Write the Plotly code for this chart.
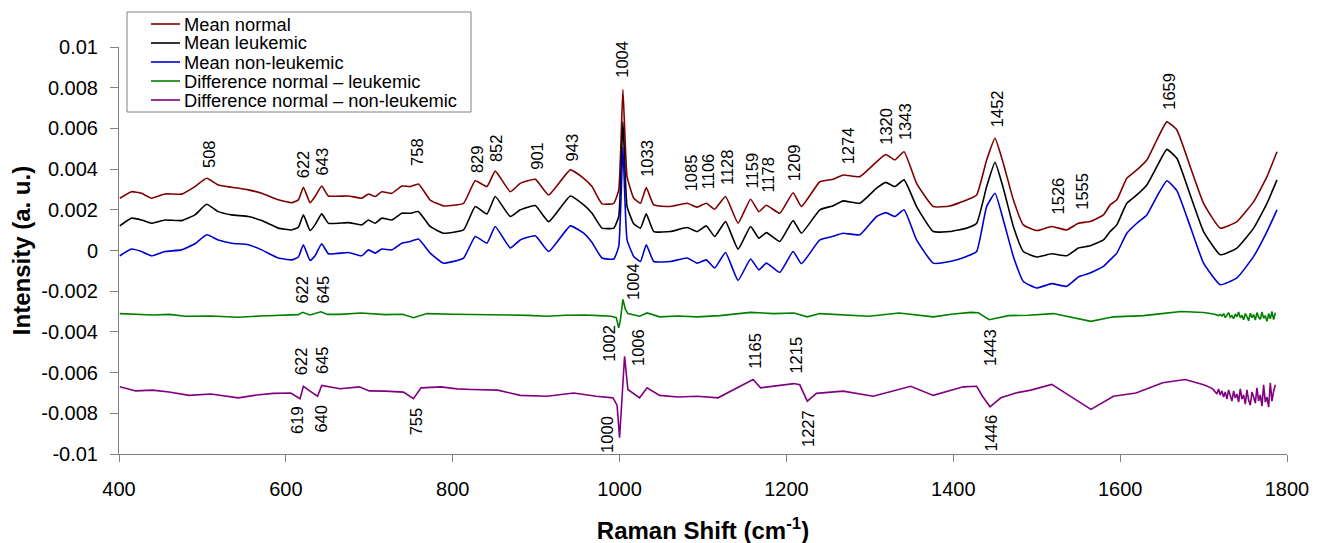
import plotly.graph_objects as go

# ---------------- data ----------------
raman_shift = [401, 415, 427, 439, 455, 475, 491, 505, 519, 535, 555, 571, 591, 607, 615, 621, 629, 635, 643, 651,
               675, 691, 699, 707, 715, 727, 739, 749, 759, 773, 789, 813, 827, 841, 851, 869, 881, 899, 915, 941,
               957, 967, 979, 993, 999, 1004, 1009, 1017, 1025, 1032, 1041, 1061, 1081, 1093, 1104, 1114, 1127, 1142,
               1157, 1167, 1176, 1192, 1208, 1218, 1240, 1256, 1268, 1288, 1308, 1319, 1330, 1341, 1356, 1376, 1396,
               1416, 1428, 1440, 1450, 1460, 1472, 1484, 1500, 1518, 1536, 1550, 1564, 1580, 1588, 1596, 1608, 1620,
               1632, 1644, 1656, 1668, 1684, 1700, 1720, 1740, 1760, 1776, 1788]

mean_normal = [0.00257, 0.00289, 0.00281, 0.00257, 0.00278, 0.00277, 0.00314, 0.00355, 0.00322, 0.00311, 0.00298,
               0.00281, 0.00249, 0.00235, 0.00249, 0.00311, 0.00235, 0.00265, 0.00317, 0.00268, 0.00268, 0.00257,
               0.00278, 0.00265, 0.00289, 0.00281, 0.00317, 0.00314, 0.00327, 0.00248, 0.00219, 0.00232, 0.00343,
               0.00314, 0.00390, 0.00289, 0.00330, 0.00350, 0.00273, 0.00396, 0.00355, 0.00314, 0.00229, 0.00232,
               0.00298, 0.00791, 0.00363, 0.00257, 0.00232, 0.00309, 0.00224, 0.00216, 0.00232, 0.00213, 0.00232,
               0.00203, 0.00265, 0.00134, 0.00252, 0.00191, 0.00222, 0.00183, 0.00284, 0.00216, 0.00338, 0.00350,
               0.00371, 0.00363, 0.00436, 0.00472, 0.00445, 0.00485, 0.00330, 0.00216, 0.00219, 0.00248, 0.00273,
               0.00445, 0.00551, 0.00428, 0.00249, 0.00126, 0.00098, 0.00118, 0.00101, 0.00134, 0.00142, 0.00175,
               0.00224, 0.00249, 0.00355, 0.00396, 0.00445, 0.00543, 0.00632, 0.00592, 0.00412, 0.00232, 0.00110,
               0.00142, 0.00240, 0.00363, 0.00485]

mean_leukemic = [0.00121, 0.00159, 0.00150, 0.00134, 0.00150, 0.00147, 0.00175, 0.00227, 0.00191, 0.00175, 0.00167,
                 0.00147, 0.00110, 0.00101, 0.00114, 0.00175, 0.00098, 0.00126, 0.00180, 0.00134, 0.00137, 0.00126,
                 0.00150, 0.00134, 0.00159, 0.00150, 0.00183, 0.00183, 0.00191, 0.00118, 0.00085, 0.00101, 0.00216,
                 0.00180, 0.00265, 0.00167, 0.00200, 0.00221, 0.00142, 0.00268, 0.00224, 0.00183, 0.00110, 0.00110,
                 0.00167, 0.00632, 0.00216, 0.00131, 0.00110, 0.00180, 0.00093, 0.00093, 0.00113, 0.00093, 0.00121,
                 0.00069, 0.00142, 0.00007, 0.00118, 0.00061, 0.00088, 0.00044, 0.00147, 0.00085, 0.00200, 0.00220,
                 0.00244, 0.00232, 0.00306, 0.00335, 0.00314, 0.00347, 0.00216, 0.00093, 0.00093, 0.00110, 0.00134,
                 0.00314, 0.00433, 0.00306, 0.00118, -0.00005, -0.00032, -0.00016, -0.00026, 0.00012, 0.00023,
                 0.00052, 0.00093, 0.00126, 0.00232, 0.00273, 0.00322, 0.00412, 0.00497, 0.00453, 0.00273, 0.00093,
                 -0.00021, 0.00012, 0.00110, 0.00232, 0.00347]

mean_non_leukemic = [-0.00026, 0.00007, -0.00005, -0.00026, -0.00005, 0.00003, 0.00033, 0.00077, 0.00052, 0.00036,
                     0.00028, 0.00003, -0.00037, -0.00046, -0.00032, 0.00028, -0.00049, -0.00026, 0.00033, -0.00016,
                     -0.00010, -0.00026, 0.00003, -0.00013, 0.00007, 0.00003, 0.00036, 0.00044, 0.00056, -0.00013,
                     -0.00062, -0.00037, 0.00069, 0.00036, 0.00118, 0.00012, 0.00052, 0.00072, -0.00005, 0.00121,
                     0.00085, 0.00039, -0.00037, -0.00042, 0.00020, 0.00507, 0.00052, -0.00029, -0.00054, 0.00028,
                     -0.00054, -0.00054, -0.00037, -0.00062, -0.00046, -0.00086, -0.00010, -0.00147, -0.00042,
                     -0.00095, -0.00062, -0.00108, -0.00005, -0.00065, 0.00052, 0.00070, 0.00085, 0.00077, 0.00167,
                     0.00186, 0.00167, 0.00200, 0.00052, -0.00062, -0.00054, -0.00029, -0.00005, 0.00216, 0.00281,
                     0.00150, -0.00029, -0.00152, -0.00184, -0.00163, -0.00176, -0.00130, -0.00111, -0.00078,
                     -0.00046, -0.00013, 0.00085, 0.00134, 0.00175, 0.00265, 0.00343, 0.00294, 0.00118, -0.00062,
                     -0.00168, -0.00135, -0.00029, 0.00093, 0.00200]

diff_leuk_shift = [401, 420, 440, 460, 480, 510, 543, 570, 598, 615, 620, 629, 642, 650, 665, 690, 719, 740, 753, 769,
                   800, 823, 850, 868, 890, 913, 935, 958, 975, 990, 996, 999, 1001, 1004, 1007, 1010, 1024, 1033,
                   1048, 1070, 1093, 1120, 1157, 1185, 1209, 1225, 1240, 1270, 1299, 1335, 1376, 1400, 1421, 1430,
                   1443, 1466, 1490, 1520, 1545, 1565, 1592, 1628, 1650, 1673, 1700, 1712, 1718,
                   1720, 1722, 1724, 1726, 1728, 1730, 1732, 1734, 1736, 1738, 1740, 1742, 1744, 1746, 1748, 1750,
                   1752, 1754, 1756, 1758, 1760, 1762, 1764, 1766, 1768, 1770, 1772, 1774, 1776, 1778, 1780, 1782,
                   1784, 1786]
diff_normal_leukemic = [-0.00310, -0.00314, -0.00317, -0.00314, -0.00323, -0.00322, -0.00328, -0.00322, -0.00317,
                        -0.00315, -0.00304, -0.00317, -0.00301, -0.00314, -0.00314, -0.00307, -0.00315, -0.00313,
                        -0.00330, -0.00310, -0.00313, -0.00314, -0.00313, -0.00317, -0.00319, -0.00323, -0.00318,
                        -0.00317, -0.00320, -0.00323, -0.00330, -0.00380, -0.00340, -0.00240, -0.00290, -0.00310,
                        -0.00323, -0.00307, -0.00326, -0.00322, -0.00326, -0.00320, -0.00304, -0.00310, -0.00307,
                        -0.00326, -0.00310, -0.00316, -0.00323, -0.00307, -0.00326, -0.00312, -0.00304, -0.00306,
                        -0.00340, -0.00320, -0.00318, -0.00310, -0.00330, -0.00348, -0.00326, -0.00320, -0.00310,
                        -0.00300, -0.00305, -0.00312, -0.00320,
                        -0.00315, -0.00322, -0.00310, -0.00330, -0.00318, -0.00305, -0.00328, -0.00320, -0.00335,
                        -0.00312, -0.00326, -0.00302, -0.00331, -0.00318, -0.00340, -0.00310, -0.00325, -0.00345,
                        -0.00308, -0.00330, -0.00315, -0.00342, -0.00305, -0.00328, -0.00338, -0.00302, -0.00333,
                        -0.00320, -0.00348, -0.00310, -0.00336, -0.00300, -0.00340, -0.00305]

diff_nonleuk_shift = [401, 420, 440, 460, 484, 510, 543, 565, 585, 606, 617, 621, 629, 638, 643, 665, 688, 700, 719,
                      741, 753, 762, 786, 805, 823, 854, 881, 913, 945, 972, 992, 997, 1000, 1003, 1006, 1010, 1024,
                      1033, 1048, 1070, 1093, 1118, 1138, 1160, 1169, 1187, 1209, 1216, 1225, 1236, 1268, 1304, 1349,
                      1376, 1412, 1428, 1435, 1444, 1457, 1475, 1493, 1518, 1538, 1565, 1592, 1619, 1651, 1678, 1700,
                      1709, 1712, 1714, 1716, 1718, 1720, 1722, 1724, 1726, 1728, 1730, 1732, 1734, 1736, 1738, 1740,
                      1742, 1744, 1746, 1748, 1750, 1752, 1754, 1756, 1758, 1760, 1762, 1764, 1766, 1768, 1770, 1772,
                      1774, 1776, 1778, 1780, 1782, 1784, 1786]
diff_normal_nonleukemic = [-0.00670, -0.00690, -0.00686, -0.00695, -0.00712, -0.00705, -0.00724, -0.00710, -0.00702,
                           -0.00700, -0.00728, -0.00667, -0.00691, -0.00716, -0.00663, -0.00679, -0.00670, -0.00690,
                           -0.00691, -0.00696, -0.00728, -0.00675, -0.00670, -0.00680, -0.00683, -0.00686, -0.00712,
                           -0.00716, -0.00700, -0.00716, -0.00724, -0.00760, -0.00920, -0.00700, -0.00520, -0.00683,
                           -0.00724, -0.00675, -0.00712, -0.00720, -0.00716, -0.00724, -0.00683, -0.00634, -0.00675,
                           -0.00667, -0.00654, -0.00660, -0.00740, -0.00702, -0.00691, -0.00716, -0.00667, -0.00712,
                           -0.00670, -0.00667, -0.00716, -0.00768, -0.00724, -0.00700, -0.00686, -0.00658, -0.00712,
                           -0.00781, -0.00716, -0.00700, -0.00650, -0.00634, -0.00660, -0.00675,
                           -0.00685, -0.00695, -0.00705, -0.00680, -0.00710, -0.00690, -0.00720, -0.00695, -0.00730,
                           -0.00685, -0.00715, -0.00740, -0.00690, -0.00725, -0.00705, -0.00745, -0.00680, -0.00730,
                           -0.00710, -0.00755, -0.00685, -0.00735, -0.00760, -0.00695, -0.00720, -0.00750, -0.00675,
                           -0.00740, -0.00710, -0.00765, -0.00660, -0.00745, -0.00720, -0.00770, -0.00650, -0.00740,
                           -0.00690, -0.00660]

series_names = ["Mean normal", "Mean leukemic", "Mean non-leukemic",
                "Difference normal \u2013 leukemic", "Difference normal \u2013 non-leukemic"]

y_tick_values = [0.01, 0.008, 0.006, 0.004, 0.002, 0, -0.002, -0.004, -0.006, -0.008, -0.01]
y_tick_labels = ["0.01", "0.008", "0.006", "0.004", "0.002", "0", "-0.002", "-0.004", "-0.006", "-0.008", "-0.01"]
x_tick_values = [400, 600, 800, 1000, 1200, 1400, 1600, 1800]

# peak labels: text, x position, y position, anchor ("bottom" = label above, "top" = label below)
peak_labels = [
    ("508", 508, 0.00396, "bottom"), ("622", 621, 0.00347, "bottom"), ("643", 643, 0.00358, "bottom"),
    ("758", 758, 0.00404, "bottom"), ("829", 829, 0.00370, "bottom"), ("852", 852, 0.00425, "bottom"),
    ("901", 901, 0.00387, "bottom"), ("943", 943, 0.00428, "bottom"), ("1004", 1003, 0.00837, "bottom"),
    ("1033", 1033, 0.00350, "bottom"), ("1085", 1085, 0.00281, "bottom"), ("1106", 1106, 0.00289, "bottom"),
    ("1128", 1128, 0.00311, "bottom"), ("1159", 1159, 0.00294, "bottom"), ("1178", 1178, 0.00273, "bottom"),
    ("1209", 1209, 0.00333, "bottom"), ("1274", 1274, 0.00412, "bottom"), ("1320", 1320, 0.00510, "bottom"),
    ("1343", 1343, 0.00534, "bottom"), ("1452", 1452, 0.00597, "bottom"), ("1526", 1526, 0.00167, "bottom"),
    ("1555", 1555, 0.00191, "bottom"), ("1659", 1659, 0.00681, "bottom"),
    ("622", 619, -0.00272, "bottom"), ("645", 644, -0.00272, "bottom"), ("1004", 1017, -0.00252, "bottom"),
    ("1002", 987, -0.00354, "top"), ("1006", 1022, -0.00374, "top"), ("1443", 1444, -0.00374, "top"),
    ("622", 619, -0.00624, "bottom"), ("645", 644, -0.00619, "bottom"), ("1165", 1163, -0.00590, "bottom"),
    ("1215", 1211, -0.00614, "bottom"),
    ("619", 614, -0.00756, "top"), ("640", 641, -0.00747, "top"), ("755", 756, -0.00761, "top"),
    ("1000", 985, -0.00805, "top"), ("1227", 1226, -0.00776, "top"), ("1446", 1445, -0.00795, "top"),
]

# ---------------- figure ----------------
FONT = "Arial, 'Liberation Sans', sans-serif"
colors = ["#800000", "#000000", "#0000cc", "#008000", "#800080"]
W, H = 1321, 543
PAGE_OFFSET = 8                      # default body margin of the html page
PLOT_LEFT, PLOT_RIGHT, PLOT_TOP, PLOT_BOTTOM = 119, 1287, 47, 454   # target pixels on the page
ML = PLOT_LEFT - PAGE_OFFSET
MT = PLOT_TOP - PAGE_OFFSET
MR = W - (PLOT_RIGHT - PAGE_OFFSET)
MB = H - (PLOT_BOTTOM - PAGE_OFFSET)
PW, PH = W - ML - MR, H - MT - MB


def px_to_paper_x(px):
    return (px - PLOT_LEFT) / PW


def px_to_paper_y(py):
    return (PLOT_BOTTOM - py) / PH


fig = go.Figure()
curves = [(raman_shift, mean_normal), (raman_shift, mean_leukemic), (raman_shift, mean_non_leukemic),
          (diff_leuk_shift, diff_normal_leukemic), (diff_nonleuk_shift, diff_normal_nonleukemic)]
for i, ((xs, ys), name, col) in enumerate(zip(curves, series_names, colors)):
    line = dict(color=col, width=1.6)
    if i < 3:
        line.update(shape="spline", smoothing=0.4)
    fig.add_trace(go.Scatter(x=xs, y=ys, mode="lines", name=name, line=line, showlegend=False))

for text, x, y, anchor in peak_labels:
    fig.add_annotation(x=x, y=y, text=text, textangle=-90, showarrow=False,
                       xanchor="center", yanchor=anchor,
                       font=dict(family=FONT, size=16.5, color="#000000"))

# legend box drawn like the reference (boxed, compact rows)
fig.add_shape(type="rect", xref="paper", yref="paper",
              x0=px_to_paper_x(127), x1=px_to_paper_x(471), y0=px_to_paper_y(112), y1=px_to_paper_y(12),
              line=dict(color="#808080", width=1), fillcolor="white", layer="above")
for k, (name, col) in enumerate(zip(series_names, colors)):
    row_y = px_to_paper_y(24 + 19 * k)
    fig.add_shape(type="line", xref="paper", yref="paper",
                  x0=px_to_paper_x(151), x1=px_to_paper_x(180), y0=row_y, y1=row_y,
                  line=dict(color=col, width=1.6), layer="above")
    fig.add_annotation(xref="paper", yref="paper", x=px_to_paper_x(182), y=row_y, text=name,
                       showarrow=False, xanchor="left", yanchor="middle",
                       font=dict(family=FONT, size=18.3, color="#000000"))

fig.update_layout(
    width=W, height=H,
    margin=dict(l=ML, r=MR, t=MT, b=MB, autoexpand=False),
    paper_bgcolor="white", plot_bgcolor="white",
    font=dict(family=FONT, color="#000000"),
    showlegend=False,
    xaxis=dict(range=[400, 1800], tickvals=x_tick_values, showgrid=False, zeroline=False,
               showline=True, linecolor="#808080", linewidth=1, automargin=False,
               ticks="outside", ticklen=7, tickcolor="#808080",
               tickfont=dict(family=FONT, size=20, color="#000000"),
               ticklabelstandoff=10,
               title=dict(text="<b>Raman Shift (cm<sup>-1</sup>)</b>",
                          font=dict(family=FONT, size=24, color="#000000"), standoff=23)),
    yaxis=dict(range=[-0.01, 0.01], tickvals=y_tick_values, ticktext=y_tick_labels,
               showgrid=False, zeroline=False, automargin=False,
               showline=True, linecolor="#808080", linewidth=1,
               ticks="outside", ticklen=8, tickcolor="#808080",
               tickfont=dict(family=FONT, size=20, color="#000000"),
               ticklabelstandoff=8,
               title=dict(text="<b>Intensity (a. u.)</b>",
                          font=dict(family=FONT, size=24, color="#000000"), standoff=5)),
)

fig.write_html("out.html")
